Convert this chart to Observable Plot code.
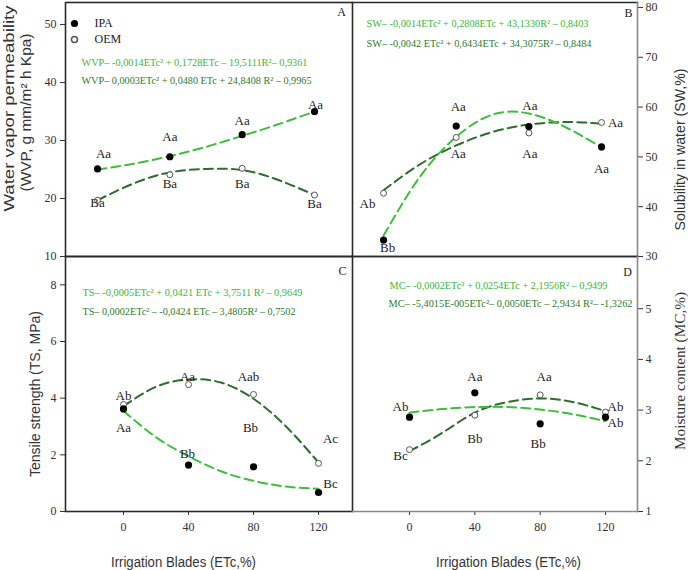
<!DOCTYPE html>
<html>
<head>
<meta charset="utf-8">
<script src="https://cdn.jsdelivr.net/npm/d3@7"></script>
<script src="https://cdn.jsdelivr.net/npm/@observablehq/plot@0.6"></script>
<style>
  body { margin: 0; background: #fff; }
  #fig { position: relative; width: 688px; height: 570px; overflow: hidden; }
  #fig > svg { position: absolute; overflow: visible; }
</style>
</head>
<body>
<div id="fig"></div>
<script>
// Irrigation blades (ETc, %) at which films were sampled, and the points used for the fitted curves
const etc = [0, 40, 80, 120];
const fitEtc = [0, 20, 40, 60, 80, 100, 120];
const xTicks = [0, 40, 80, 120];

// A — water vapour permeability (WVP)
const wvpIPA = [25.1, 27.2, 31.0, 35.0];
const wvpOEM = [19.7, 24.1, 25.2, 20.6];
const wvpFitIPA = [25.0, 26.0, 27.3, 28.9, 30.8, 32.8, 35.0];
const wvpFitOEM = [19.7, 22.6, 24.5, 25.1, 24.9, 23.2, 20.6];
const wvpTagsIPA = ["Aa", "Aa", "Aa", "Aa"];
const wvpTagsOEM = ["Ba", "Ba", "Ba", "Ba"];
const wvpTicks = [10, 20, 30, 40, 50];
const wvpEquations = [
  "WVP– -0,0014ETc² + 0,1728ETc – 19,5111R²– 0,9361",
  "WVP– 0,0003ETc² + 0,0480 ETc + 24,8408 R² – 0,9965"
];

// B — solubility in water (SW)
const swIPA = [33.3, 56.2, 56.1, 52.0];
const swOEM = [42.7, 53.9, 54.8, 56.9];
const swFitIPA = [34.2, 46.0, 54.0, 58.5, 58.7, 56.0, 51.9];
const swFitOEM = [43.3, 48.5, 52.3, 55.0, 56.5, 57.0, 56.7];
const swTagsIPA = ["Bb", "Aa", "Aa", "Aa"];
const swTagsOEM = ["Ab", "Aa", "Aa", "Aa"];
const swTicks = [30, 40, 50, 60, 70, 80];
const swEquations = [
  "SW– -0,0014ETc² + 0,2808ETc + 43,1330R² – 0,8403",
  "SW– -0,0042 ETc² + 0,6434ETc + 34,3075R² – 0,8484"
];

// C — tensile strength (TS)
const tsIPA = [3.62, 1.64, 1.58, 0.67];
const tsOEM = [3.78, 4.48, 4.13, 1.70];
const tsFitIPA = [3.55, 2.62, 1.95, 1.42, 1.08, 0.88, 0.80];
const tsFitOEM = [3.72, 4.40, 4.66, 4.55, 3.98, 3.00, 1.73];
const tsTagsIPA = ["Aa", "Bb", "Bb", "Bc"];
const tsTagsOEM = ["Ab", "Aa", "Aab", "Ac"];
const tsTicks = [0, 2, 4, 6, 8];
const tsEquations = [
  "TS– -0,0005ETc² + 0,0421 ETc + 3,7511 R² – 0,9649",
  "TS– 0,0002ETc² – -0,0424 ETc – 3,4805R² – 0,7502"
];

// D — moisture content (MC)
const mcIPA = [2.86, 3.34, 2.73, 2.86];
const mcOEM = [2.22, 2.90, 3.30, 2.96];
const mcFitIPA = [2.95, 3.02, 3.06, 3.06, 3.01, 2.92, 2.78];
const mcFitOEM = [2.19, 2.55, 2.95, 3.16, 3.23, 3.16, 2.98];
const mcTagsIPA = ["Ab", "Aa", "Bb", "Ab"];
const mcTagsOEM = ["Bc", "Bb", "Aa", "Ab"];
const mcTicks = [1, 2, 3, 4, 5];
const mcEquations = [
  "MC– -0,0002ETc² + 0,0254ETc + 2,1956R² – 0,9499",
  "MC– -5,4015E-005ETc²– 0,0050ETc – 2,9434 R²– -1,3262"
];

const xTitle = "Irrigation Blades (ETc,%)";

// ---- styling -------------------------------------------------------------
const SERIF = "Liberation Serif, Times New Roman, serif";
const SANS = "Liberation Sans, Arial, sans-serif";
const LIGHT = "#3dbe3d";
const DARK = "#2c6e2c";
const LIGHT_TEXT = "#3cb53c";
const DARK_TEXT = "#2e7a2e";
const FRAME = "#2a2a2a";
const FRAME_GREY = "#8a8a8a";

// where each significance letter sits relative to its point (px)
const nudge = {
  A: { ipa: [[6, -15], [0, -20], [0, -14], [1, -7]], oem: [[0, 3], [0, 9], [0, 15], [0, 9]] },
  B: { ipa: [[4, 8], [2, -19], [1, -21], [0, 22]], oem: [[-16, 11], [2, 16], [1, 21], [14, 0]] },
  C: { ipa: [[0, 19], [-1, -11], [-3, -39], [12, -9]], oem: [[0, -9], [-1, -8], [-5, -18], [12, -25]] },
  D: { ipa: [[-9, -10], [0, -16], [-2, 20], [10, 6]], oem: [[-9, 6], [0, 24], [4, -18], [10, -5]] }
};

// preferred drawn lengths of the longer text runs
const textLengths = {
  "Water vapor permeability": 206,
  "(WVP, g mm/m² h Kpa)": 158,
  "Tensile strength (TS, MPa)": 166,
  "Solubility in water (SW,%)": 162,
  "Moisture content (MC,%)": 158,
  [xTitle]: 145,
  [wvpEquations[0]]: 226, [wvpEquations[1]]: 230,
  [swEquations[0]]: 222, [swEquations[1]]: 225,
  [tsEquations[0]]: 220, [tsEquations[1]]: 213,
  [mcEquations[0]]: 218, [mcEquations[1]]: 244
};

const panels = [
  {
    key: "A", left: 0, top: 0, width: 360, height: 262,
    margin: { top: 2, right: 8, bottom: 6, left: 65 },
    xDomain: [-17.7, 141], yDomain: [10, 53.8], yTicks: wvpTicks, yAxis: "left", xAxis: false,
    ipa: wvpIPA, oem: wvpOEM, fitIPA: wvpFitIPA, fitOEM: wvpFitOEM,
    tagsIPA: wvpTagsIPA, tagsOEM: wvpTagsOEM, equations: wvpEquations,
    eqPos: [[16, 60], [16, 78]], letterPos: [-11, 10],
    frames: [{ stroke: FRAME }],
    titles: [
      { text: "Water vapor permeability", anchor: "left", dx: -56, dy: -21, font: SANS, size: 14 },
      { text: "(WVP, g mm/m² h Kpa)", anchor: "left", dx: -39, dy: -17, font: SANS, size: 14 }
    ],
    legend: true
  },
  {
    key: "B", left: 340, top: 0, width: 348, height: 262,
    margin: { top: 2, right: 51, bottom: 6, left: 12 },
    xDomain: [-17.1, 139.8], yDomain: [30, 81], yTicks: swTicks, yAxis: "right", xAxis: false,
    ipa: swIPA, oem: swOEM, fitIPA: swFitIPA, fitOEM: swFitOEM,
    tagsIPA: swTagsIPA, tagsOEM: swTagsOEM, equations: swEquations,
    eqPos: [[14, 21], [14, 41]], letterPos: [-9, 11],
    frames: [{ anchor: "top", stroke: FRAME }, { anchor: "bottom", stroke: FRAME }, { anchor: "right", stroke: FRAME_GREY }],
    titles: [{ text: "Solubility in water (SW,%)", anchor: "right", dx: 43, dy: 20, font: SANS, size: 14 }]
  },
  {
    key: "C", left: 0, top: 250, width: 360, height: 320,
    margin: { top: 6, right: 8, bottom: 59, left: 65 },
    xDomain: [-35.7, 140.9], yDomain: [0, 9], yTicks: tsTicks, yAxis: "left", xAxis: true,
    ipa: tsIPA, oem: tsOEM, fitIPA: tsFitIPA, fitOEM: tsFitOEM,
    tagsIPA: tsTagsIPA, tagsOEM: tsTagsOEM, equations: tsEquations,
    eqPos: [[17, 36], [17, 55]], letterPos: [-10, 15],
    frames: [{ stroke: FRAME }],
    titles: [{ text: "Tensile strength (TS, MPa)", anchor: "left", dx: -30, dy: 10, font: SANS, size: 14 }],
    xTitleDx: -25.5
  },
  {
    key: "D", left: 340, top: 250, width: 348, height: 320,
    margin: { top: 6, right: 51, bottom: 59, left: 12 },
    xDomain: [-34.9, 139.6], yDomain: [1, 6.03], yTicks: mcTicks, yAxis: "right", xAxis: true,
    ipa: mcIPA, oem: mcOEM, fitIPA: mcFitIPA, fitOEM: mcFitOEM,
    tagsIPA: mcTagsIPA, tagsOEM: mcTagsOEM, equations: mcEquations,
    eqPos: [[37, 29], [36, 47]], letterPos: [-10, 16],
    frames: [{ anchor: "top", stroke: FRAME }, { anchor: "bottom", stroke: FRAME_GREY }, { anchor: "right", stroke: FRAME_GREY }],
    titles: [{ text: "Moisture content (MC,%)", anchor: "right", dx: 43, dy: -13, font: SERIF, size: 15 }],
    xTitleDx: 13.5
  }
];

function rows(values, tags, offsets) {
  return etc.map((e, i) => ({ etc: e, v: values[i], tag: tags[i], dx: offsets[i][0], dy: offsets[i][1] }));
}
function curve(values) {
  return fitEtc.map((e, i) => ({ etc: e, v: values[i] }));
}
// a single piece of text pinned to the frame, centred on its anchor point
function note(str, options) {
  return Plot.text([str], { text: d => d, textAnchor: "middle", lineAnchor: "middle", ...options });
}

function drawPanel(p) {
  const ipa = rows(p.ipa, p.tagsIPA, nudge[p.key].ipa);
  const oem = rows(p.oem, p.tagsOEM, nudge[p.key].oem);
  const dash = { x: "etc", y: "v", curve: "natural", strokeWidth: 2, strokeDasharray: "9,5" };

  const marks = [
    ...p.frames.map(f => Plot.frame({ strokeWidth: 1.6, ...f })),
    Plot.line(curve(p.fitOEM), { ...dash, stroke: DARK }),
    Plot.line(curve(p.fitIPA), { ...dash, stroke: LIGHT }),
    Plot.dot(oem, { x: "etc", y: "v", r: 3, fill: "white", stroke: "#555", strokeWidth: 1 }),
    Plot.dot(ipa, { x: "etc", y: "v", r: 3.6, fill: "black" }),
    ...[...ipa, ...oem].map(d =>
      Plot.text([d], { x: "etc", y: "v", text: "tag", dx: d.dx, dy: d.dy, fontSize: 13, fontFamily: SERIF, fill: "#222" })
    ),
    ...p.equations.map((eq, i) =>
      note(eq, {
        frameAnchor: "top-left", textAnchor: "start",
        dx: p.eqPos[i][0], dy: p.eqPos[i][1], fontSize: 10, fontFamily: SERIF,
        fill: i === 0 ? LIGHT_TEXT : DARK_TEXT
      })
    ),
    note(p.key, { frameAnchor: "top-right", dx: p.letterPos[0], dy: p.letterPos[1], fontSize: 12, fontFamily: SERIF, fill: "#222" }),
    ...p.titles.map(t =>
      note(t.text, { frameAnchor: t.anchor, rotate: -90, dx: t.dx, dy: t.dy, fontSize: t.size, fontFamily: t.font, fill: "#333" })
    )
  ];

  if (p.xAxis) {
    marks.push(note(xTitle, { frameAnchor: "bottom", dx: p.xTitleDx, dy: 51, fontSize: 14, fontFamily: SANS, fill: "#333" }));
  }

  if (p.legend) {
    marks.push(
      Plot.dot([0], { frameAnchor: "top-left", dx: 9, dy: 21, r: 3.6, fill: "black" }),
      Plot.dot([0], { frameAnchor: "top-left", dx: 9, dy: 37, r: 3, fill: "white", stroke: "#555" }),
      note("IPA", { frameAnchor: "top-left", textAnchor: "start", dx: 29, dy: 21, fontSize: 12, fontFamily: SERIF, fill: "#222" }),
      note("OEM", { frameAnchor: "top-left", textAnchor: "start", dx: 29, dy: 37, fontSize: 12, fontFamily: SERIF, fill: "#222" })
    );
  }

  const svg = Plot.plot({
    width: p.width,
    height: p.height,
    marginTop: p.margin.top,
    marginRight: p.margin.right,
    marginBottom: p.margin.bottom,
    marginLeft: p.margin.left,
    style: { background: "transparent", fontFamily: SERIF, fontSize: "12px", color: "#333", overflow: "visible" },
    x: p.xAxis
      ? { domain: p.xDomain, ticks: xTicks, tickFormat: d3.format("d"), tickSize: 4, tickPadding: 7, label: null, axis: "bottom" }
      : { domain: p.xDomain, axis: null },
    y: {
      domain: p.yDomain, ticks: p.yTicks, tickFormat: d3.format("d"), tickSize: 5,
      tickPadding: p.yAxis === "left" ? 4 : 3, label: null, axis: p.yAxis
    },
    marks
  });

  svg.style.left = p.left + "px";
  svg.style.top = p.top + "px";
  svg.querySelectorAll("text, tspan").forEach(el => {
    if (el.children.length) return;
    const L = textLengths[el.textContent];
    if (L) {
      el.setAttribute("textLength", L);
      el.setAttribute("lengthAdjust", "spacingAndGlyphs");
    }
  });
  return svg;
}

const fig = document.getElementById("fig");
panels.forEach(p => fig.appendChild(drawPanel(p)));
</script>
</body>
</html>
